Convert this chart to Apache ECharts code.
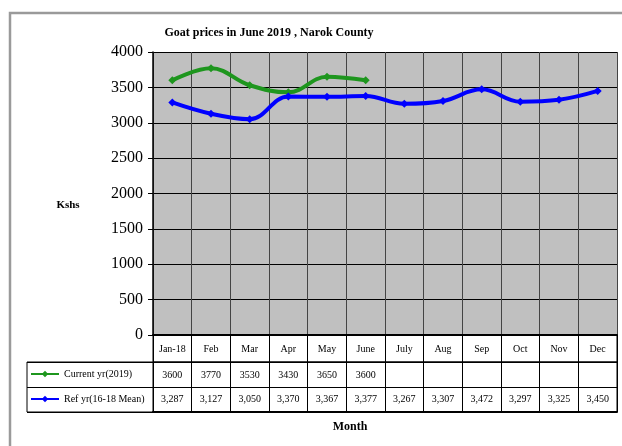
<!DOCTYPE html>
<html>
<head>
<meta charset="utf-8">
<script src="https://cdn.jsdelivr.net/npm/echarts@6/dist/echarts.min.js"></script>
<style>
  html, body { margin: 0; padding: 0; background: #fff; }
  #chart { width: 622px; height: 446px; }
</style>
</head>
<body>
<div id="chart"></div>
<script>
// months on the x axis / table header
const months = ['Jan-18', 'Feb', 'Mar', 'Apr', 'May', 'June', 'July', 'Aug', 'Sep', 'Oct', 'Nov', 'Dec'];
// 2019 prices (only Jan - June available)
const currentYear = [3600, 3770, 3530, 3430, 3650, 3600];
// reference mean 2016-18
const refMean = [3287, 3127, 3050, 3370, 3367, 3377, 3267, 3307, 3472, 3297, 3325, 3450];
const yTicks = [0, 500, 1000, 1500, 2000, 2500, 3000, 3500, 4000];

const seriesNames = ['Current yr(2019)', 'Ref yr(16-18 Mean)'];
const green = '#1e961e';
const blue = '#0000ff';
const font = 'Liberation Serif';

const plotLeft = 153, plotRight = 5;

const chart = echarts.init(document.getElementById('chart'));

const currentCells = months.map((m, i) => (currentYear[i] != null ? String(currentYear[i]) : ''));
const refCells = refMean.map((v) => v.toLocaleString('en-US'));

const option = {
  animation: false,
  backgroundColor: '#fff',
  graphic: [
    {
      type: 'rect',
      shape: { x: 10, y: 13, width: 700, height: 500 },
      style: { fill: 'none', stroke: '#9a9a9a', lineWidth: 2.5 },
      silent: true
    },
    {
      type: 'text', x: 269, y: 33, silent: true,
      style: {
        text: 'Goat prices in June 2019 , Narok County',
        align: 'center', verticalAlign: 'middle',
        font: 'bold 12px "Liberation Serif"', fill: '#000'
      }
    },
    {
      type: 'text', x: 68, y: 205, silent: true,
      style: {
        text: 'Kshs', align: 'center', verticalAlign: 'middle',
        font: 'bold 11px "Liberation Serif"', fill: '#000'
      }
    },
    {
      type: 'text', x: 350, y: 427, silent: true,
      style: {
        text: 'Month', align: 'center', verticalAlign: 'middle',
        font: 'bold 12px "Liberation Serif"', fill: '#000'
      }
    }
  ],
  legend: [
    {
      data: [seriesNames[0]], left: 30, top: 369, itemWidth: 28, itemHeight: 8, padding: 0,
      textStyle: { fontFamily: font, fontSize: 10, color: '#000' }
    },
    {
      data: [seriesNames[1]], left: 30, top: 394, itemWidth: 28, itemHeight: 8, padding: 0,
      textStyle: { fontFamily: font, fontSize: 10, color: '#000' }
    }
  ],
  grid: [
    // plot area
    { left: plotLeft, right: plotRight, top: 52, height: 283, show: true, backgroundColor: '#c0c0c0', borderWidth: 0 },
    // month header row
    { left: plotLeft, right: plotRight, top: 335, height: 27, show: true, backgroundColor: '#fff', borderColor: '#000', borderWidth: 1 },
    // value rows
    { left: plotLeft, right: plotRight, top: 362, height: 50, show: true, backgroundColor: '#fff', borderColor: '#000', borderWidth: 1 },
    // legend cells
    { left: 27, width: 126, top: 362, height: 50, show: true, backgroundColor: '#fff', borderColor: '#000', borderWidth: 1 }
  ],
  xAxis: [
    {
      gridIndex: 0, type: 'category', data: months, boundaryGap: true,
      axisLine: { show: true, lineStyle: { color: '#000', width: 2 } },
      axisTick: { show: false },
      axisLabel: { show: false },
      splitLine: { show: true, interval: 0, lineStyle: { color: '#444', width: 1 } }
    },
    {
      gridIndex: 1, type: 'category', data: months, boundaryGap: true,
      axisLine: { show: false }, axisTick: { show: false },
      axisLabel: { inside: true, interval: 0, margin: 8, fontFamily: font, fontSize: 10, color: '#000' },
      splitLine: { show: true, interval: 0, lineStyle: { color: '#000', width: 1 } }
    },
    {
      gridIndex: 2, type: 'category', position: 'top', data: currentCells, boundaryGap: true,
      axisLine: { show: false }, axisTick: { show: false },
      axisLabel: { inside: true, interval: 0, margin: 8, fontFamily: font, fontSize: 10, color: '#000' },
      splitLine: { show: true, interval: 0, lineStyle: { color: '#000', width: 1 } }
    },
    {
      gridIndex: 2, type: 'category', position: 'bottom', data: refCells, boundaryGap: true,
      axisLine: { show: true, lineStyle: { color: '#000', width: 2 } }, axisTick: { show: false },
      axisLabel: { inside: true, interval: 0, margin: 8, fontFamily: font, fontSize: 10, color: '#000' },
      splitLine: { show: false }
    },
    { gridIndex: 3, type: 'value', show: false }
  ],
  yAxis: [
    {
      gridIndex: 0, type: 'value', min: yTicks[0], max: yTicks[yTicks.length - 1], interval: 500,
      axisLine: { show: true, lineStyle: { color: '#000', width: 1.5 } },
      axisTick: { show: true, length: 5, lineStyle: { color: '#000' } },
      axisLabel: { margin: 10, fontFamily: font, fontSize: 16, color: '#000', formatter: (v) => String(v) },
      splitLine: { show: true, lineStyle: { color: '#000', width: 1 } }
    },
    { gridIndex: 1, type: 'value', show: false },
    {
      gridIndex: 2, type: 'category', data: ['ref', 'cur'], boundaryGap: true,
      axisLine: { show: false }, axisTick: { show: false }, axisLabel: { show: false },
      splitLine: { show: true, interval: 0, lineStyle: { color: '#000', width: 1 } }
    },
    {
      gridIndex: 3, type: 'category', data: ['ref', 'cur'], boundaryGap: true,
      axisLine: { show: false }, axisTick: { show: false }, axisLabel: { show: false },
      splitLine: { show: true, interval: 0, lineStyle: { color: '#000', width: 1 } }
    }
  ],
  series: [
    {
      name: seriesNames[0], type: 'line', xAxisIndex: 0, yAxisIndex: 0,
      data: currentYear, smooth: 0.4,
      symbol: 'diamond', symbolSize: 8,
      lineStyle: { color: green, width: 4 },
      itemStyle: { color: green }
    },
    {
      name: seriesNames[1], type: 'line', xAxisIndex: 0, yAxisIndex: 0,
      data: refMean, smooth: 0.4,
      symbol: 'diamond', symbolSize: 8,
      lineStyle: { color: blue, width: 4 },
      itemStyle: { color: blue }
    }
  ]
};

chart.setOption(option);
</script>
</body>
</html>
